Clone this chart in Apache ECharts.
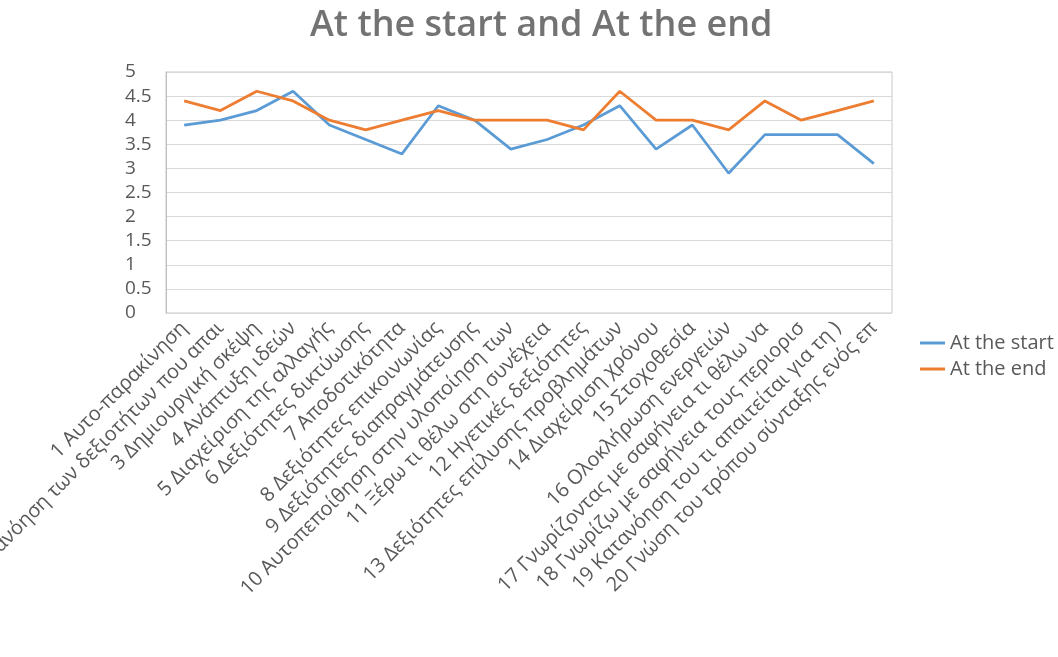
<!DOCTYPE html>
<html>
<head>
<meta charset="utf-8">
<script src="https://cdn.jsdelivr.net/npm/echarts@6/dist/echarts.min.js"></script>
<style>
  html, body { margin: 0; padding: 0; background: #fff; }
  #chart { width: 1058px; height: 657px; }
</style>
</head>
<body>
<div id="chart"></div>
<script>
// Skill items (labels are shortened, as in the source sheet)
const categories = [
  '1 Αυτο-παρακίνηση',
  '2 Κατανόηση των δεξιοτήτων που απαι',
  '3 Δημιουργική σκέψη',
  '4 Ανάπτυξη ιδεών',
  '5 Διαχείριση της αλλαγής',
  '6 Δεξιότητες δικτύωσης',
  '7 Αποδοτικότητα',
  '8 Δεξιότητες επικοινωνίας',
  '9 Δεξιότητες διαπραγμάτευσης',
  '10 Αυτοπεποίθηση στην υλοποίηση των',
  '11 Ξέρω τι θέλω στη συνέχεια',
  '12 Ηγετικές δεξιότητες',
  '13 Δεξιότητες επίλυσης προβλημάτων',
  '14 Διαχείριση χρόνου',
  '15 Στοχοθεσία',
  '16 Ολοκλήρωση ενεργειών',
  '17 Γνωρίζοντας με σαφήνεια τι θέλω να',
  '18 Γνωρίζω με σαφήνεια τους περιορισ',
  '19 Κατανόηση του τι απαιτείται για τη )',
  '20 Γνώση του τρόπου σύνταξης ενός επ'
];

const atTheStart = [3.9, 4.0, 4.2, 4.6, 3.9, 3.6, 3.3, 4.3, 4.0, 3.4, 3.6, 3.9, 4.3, 3.4, 3.9, 2.9, 3.7, 3.7, 3.7, 3.1];
const atTheEnd   = [4.4, 4.2, 4.6, 4.4, 4.0, 3.8, 4.0, 4.2, 4.0, 4.0, 4.0, 3.8, 4.6, 4.0, 4.0, 3.8, 4.4, 4.0, 4.2, 4.4];

const seriesNames = ['At the start', 'At the end'];
const titleText = 'At the start and At the end';

const FONT = '"Open Sans", "Noto Sans", sans-serif';
const TEXT = '#595959';

const chart = echarts.init(document.getElementById('chart'), null, { renderer: 'canvas' });

chart.setOption({
  animation: false,
  backgroundColor: '#fff',
  textStyle: { fontFamily: FONT },
  title: {
    text: titleText,
    left: 305,
    top: 3,
    textStyle: { fontFamily: FONT, fontSize: 36, fontWeight: 600, color: '#737373' }
  },
  legend: {
    orient: 'vertical',
    left: 915,
    top: 328,
    itemWidth: 25,
    itemHeight: 3,
    itemGap: 6,
    icon: 'rect',
    textStyle: { fontFamily: FONT, fontSize: 20, color: TEXT },
    data: seriesNames
  },
  grid: {
    left: 166,
    right: 166,
    top: 72,
    bottom: 344,
    show: true,
    borderColor: '#c8c8c8',
    borderWidth: 1,
    containLabel: false,
    outerBoundsMode: 'none'
  },
  xAxis: {
    type: 'category',
    data: categories,
    boundaryGap: true,
    axisLine: { show: false },
    axisTick: { show: false },
    axisLabel: {
      interval: 0,
      rotate: 45,
      margin: 12,
      fontFamily: FONT,
      fontSize: 20,
      color: TEXT
    }
  },
  yAxis: {
    type: 'value',
    min: 0,
    max: 5,
    interval: 0.5,
    axisLine: { show: true, lineStyle: { color: '#bfbfbf', width: 1 } },
    axisTick: { show: false },
    axisLabel: {
      align: 'left',
      margin: 41,
      fontFamily: FONT,
      fontSize: 19,
      color: TEXT
    },
    splitLine: { lineStyle: { color: '#d9d9d9', width: 1 } }
  },
  series: [
    {
      name: seriesNames[0],
      type: 'line',
      data: atTheStart,
      symbol: 'none',
      lineStyle: { color: '#5B9BD5', width: 2.75 },
      itemStyle: { color: '#5B9BD5' }
    },
    {
      name: seriesNames[1],
      type: 'line',
      data: atTheEnd,
      symbol: 'none',
      lineStyle: { color: '#ED7D31', width: 2.75 },
      itemStyle: { color: '#ED7D31' }
    }
  ]
});
</script>
</body>
</html>
